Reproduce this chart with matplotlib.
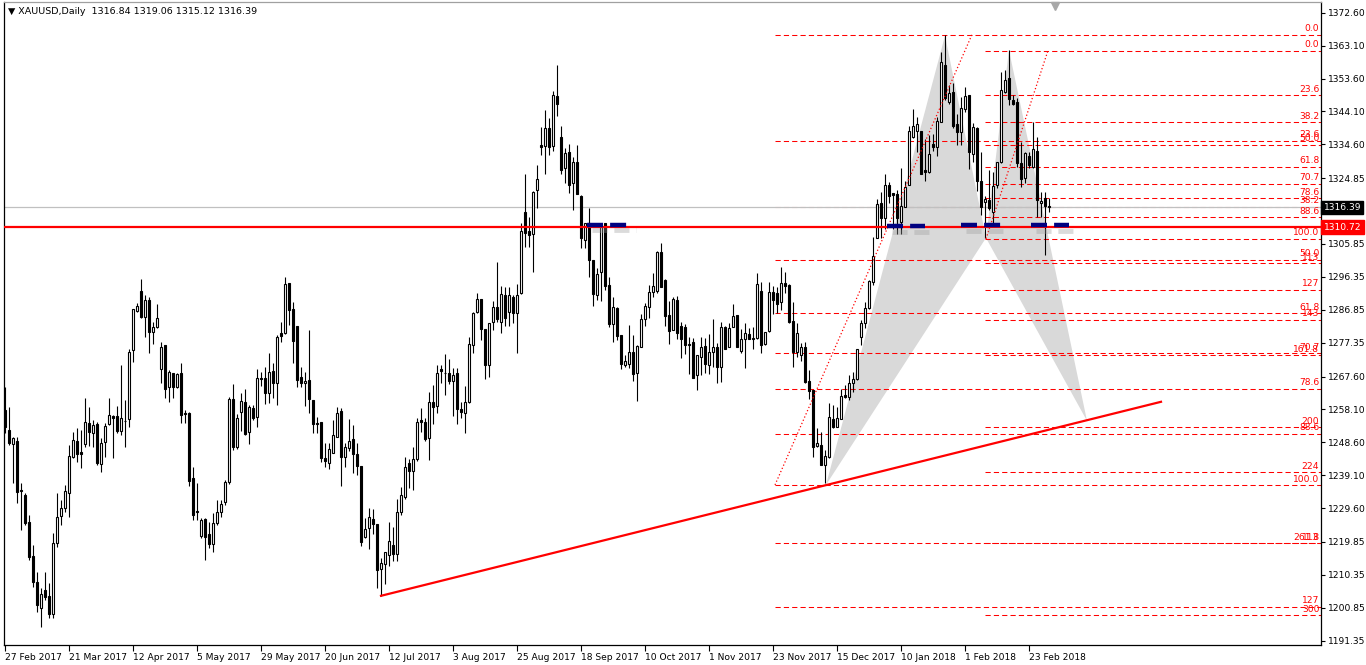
import matplotlib
matplotlib.use("Agg")
import matplotlib.pyplot as plt
import matplotlib.transforms as mtransforms

# XAUUSD daily bars, 27 Feb 2017 .. 2 Mar 2018 (bar index 0..261)
opens = [
    1257.9, 1252.2, 1248.1, 1249.0, 1234.9, 1233.4, 1225.6, 1215.8, 1208.3, 1200.8,
    1206.0, 1204.3, 1199.1, 1219.6, 1227.4, 1229.7, 1234.0, 1244.4, 1249.0, 1245.8,
    1248.1, 1254.2, 1251.3, 1253.9, 1242.3, 1248.7, 1253.9, 1256.2, 1256.2, 1251.9,
    1254.7, 1255.4, 1275.2, 1286.5, 1292.3, 1284.8, 1289.7, 1280.5, 1281.9, 1269.8,
    1276.7, 1264.6, 1268.6, 1264.6, 1268.6, 1257.1, 1257.1, 1238.3, 1228.8, 1221.6,
    1226.5, 1222.2, 1219.3, 1225.3, 1228.5, 1231.4, 1237.2, 1261.1, 1247.3, 1257.4,
    1260.3, 1251.6, 1258.5, 1255.9, 1267.2, 1267.2, 1262.8, 1269.2, 1265.7, 1280.2,
    1280.2, 1294.6, 1287.1, 1282.2, 1267.5, 1265.7, 1266.6, 1260.8, 1254.2, 1254.5,
    1244.1, 1242.6, 1245.5, 1250.1, 1257.6, 1244.4, 1247.0, 1249.6, 1245.2, 1241.8,
    1221.3, 1223.9, 1226.5, 1225.0, 1212.0, 1213.5, 1216.1, 1219.0, 1216.4, 1228.5,
    1232.8, 1242.6, 1240.3, 1243.8, 1255.0, 1254.5, 1249.9, 1260.3, 1259.1, 1269.8,
    1268.6, 1268.6, 1266.3, 1268.6, 1258.2, 1257.1, 1260.3, 1276.7, 1286.2, 1290.0,
    1281.3, 1270.9, 1283.3, 1287.7, 1283.3, 1291.1, 1286.2, 1290.6, 1285.9, 1291.7,
    1315.1, 1309.6, 1308.7, 1321.4, 1334.4, 1334.1, 1339.3, 1334.1, 1348.6, 1336.7,
    1327.8, 1332.4, 1323.5, 1329.5, 1319.7, 1307.0, 1311.9, 1301.2, 1291.1, 1297.8,
    1311.9, 1294.0, 1282.8, 1287.4, 1279.6, 1270.9, 1271.2, 1274.7, 1268.6, 1276.1,
    1284.2, 1287.7, 1292.0, 1292.3, 1303.5, 1295.5, 1285.4, 1281.0, 1289.7, 1282.2,
    1281.9, 1276.7, 1277.6, 1268.0, 1273.2, 1276.4, 1270.9, 1274.7, 1276.1, 1270.3,
    1281.9, 1276.1, 1281.9, 1285.4, 1275.0, 1278.4, 1279.9, 1278.7, 1278.7, 1292.3,
    1277.0, 1280.7, 1292.0, 1291.7, 1289.1, 1294.6, 1294.0, 1283.6, 1274.7, 1273.8,
    1276.1, 1266.3, 1263.7, 1247.6, 1247.8, 1242.0, 1244.4, 1255.3, 1253.0, 1255.3,
    1262.3, 1261.7, 1265.7, 1266.9, 1279.0, 1283.0, 1287.4, 1294.9, 1307.6, 1317.7,
    1313.4, 1322.9, 1320.6, 1320.3, 1312.2, 1316.5, 1322.9, 1336.7, 1338.5, 1338.5,
    1327.2, 1326.6, 1334.7, 1333.8, 1341.1, 1357.5, 1346.8, 1349.7, 1340.5, 1338.2,
    1344.8, 1348.9, 1331.8, 1339.3, 1324.0, 1318.0, 1318.5, 1315.1, 1322.9, 1329.5,
    1349.7, 1353.8, 1347.4, 1346.8, 1329.2, 1324.9, 1331.2, 1328.1, 1332.7, 1317.7,
    1319.1, 1316.84,
]
highs = [
    1264.6, 1258.8, 1250.2, 1250.2, 1236.9, 1234.0, 1227.6, 1219.0, 1211.2, 1206.6,
    1211.2, 1208.0, 1222.4, 1234.0, 1232.0, 1236.3, 1247.8, 1251.6, 1252.7, 1252.2,
    1261.4, 1258.8, 1255.0, 1254.5, 1249.9, 1254.2, 1261.4, 1256.5, 1259.1, 1270.9,
    1260.8, 1275.5, 1287.1, 1288.8, 1295.7, 1291.1, 1290.6, 1283.3, 1288.5, 1277.6,
    1276.7, 1269.5, 1268.6, 1268.6, 1271.5, 1258.0, 1257.4, 1241.5, 1236.9, 1226.8,
    1226.8, 1225.6, 1228.2, 1232.0, 1232.0, 1237.7, 1261.7, 1265.4, 1256.8, 1262.8,
    1264.0, 1259.4, 1259.4, 1269.8, 1268.9, 1270.4, 1274.4, 1271.5, 1279.6, 1283.3,
    1296.3, 1294.6, 1289.1, 1282.2, 1270.4, 1268.9, 1281.0, 1260.8, 1255.9, 1254.5,
    1248.4, 1248.4, 1255.0, 1258.8, 1258.5, 1248.4, 1255.4, 1253.6, 1248.4, 1241.8,
    1226.8, 1229.7, 1229.4, 1225.0, 1215.2, 1216.9, 1225.6, 1224.2, 1232.3, 1235.7,
    1244.4, 1243.8, 1247.3, 1255.6, 1258.5, 1255.6, 1263.1, 1265.1, 1270.9, 1270.9,
    1274.1, 1272.7, 1270.1, 1270.1, 1260.3, 1264.9, 1279.0, 1286.2, 1291.7, 1290.0,
    1281.3, 1283.0, 1289.4, 1300.7, 1293.7, 1293.4, 1293.4, 1291.1, 1294.3, 1311.9,
    1326.0, 1313.6, 1321.2, 1328.6, 1339.6, 1344.5, 1342.2, 1350.0, 1357.5, 1339.9,
    1333.6, 1334.7, 1331.0, 1334.4, 1320.0, 1311.9, 1316.2, 1301.2, 1298.9, 1310.8,
    1311.9, 1296.3, 1290.6, 1287.7, 1279.6, 1273.8, 1282.5, 1279.6, 1276.7, 1285.6,
    1288.8, 1294.0, 1297.5, 1303.8, 1306.1, 1295.7, 1289.4, 1290.6, 1290.8, 1283.3,
    1282.8, 1279.0, 1278.7, 1273.8, 1279.0, 1278.7, 1279.9, 1284.2, 1277.3, 1283.3,
    1282.2, 1283.0, 1288.5, 1285.4, 1281.3, 1283.0, 1281.6, 1281.9, 1297.5, 1294.9,
    1280.5, 1294.9, 1293.7, 1293.4, 1299.2, 1297.8, 1294.3, 1289.1, 1283.0, 1277.3,
    1277.6, 1269.5, 1263.7, 1252.7, 1251.6, 1246.4, 1260.0, 1259.4, 1258.8, 1264.0,
    1265.1, 1268.0, 1268.9, 1275.5, 1283.9, 1289.1, 1295.5, 1307.9, 1318.8, 1320.9,
    1326.0, 1323.7, 1320.6, 1321.4, 1327.8, 1324.0, 1339.9, 1344.8, 1342.5, 1338.5,
    1336.2, 1337.3, 1337.6, 1342.5, 1361.3, 1366.2, 1351.7, 1352.3, 1343.4, 1348.3,
    1351.2, 1348.9, 1340.8, 1339.6, 1332.4, 1319.7, 1327.2, 1326.6, 1329.5, 1355.5,
    1356.1, 1361.8, 1348.9, 1348.0, 1335.3, 1332.4, 1332.4, 1341.1, 1336.7, 1320.9,
    1320.9, 1319.06,
]
lows = [
    1251.3, 1247.8, 1236.9, 1231.1, 1223.3, 1224.6, 1214.6, 1206.9, 1199.6, 1195.3,
    1203.1, 1197.9, 1197.9, 1218.4, 1224.7, 1228.5, 1227.1, 1244.1, 1243.0, 1241.2,
    1247.3, 1247.5, 1247.3, 1242.0, 1240.0, 1244.4, 1253.6, 1244.1, 1251.3, 1250.7,
    1247.3, 1253.0, 1271.8, 1286.2, 1284.5, 1279.0, 1274.4, 1277.0, 1281.6, 1265.7,
    1261.4, 1260.2, 1261.4, 1264.3, 1254.2, 1254.2, 1236.0, 1226.2, 1226.2, 1221.0,
    1214.6, 1218.1, 1217.0, 1224.7, 1227.1, 1230.5, 1236.6, 1246.4, 1246.7, 1251.9,
    1250.7, 1248.1, 1255.0, 1253.0, 1264.9, 1259.7, 1260.0, 1261.4, 1259.4, 1277.6,
    1279.9, 1282.5, 1271.5, 1264.6, 1264.6, 1259.1, 1257.1, 1251.3, 1251.3, 1242.9,
    1241.5, 1240.9, 1245.5, 1250.1, 1236.0, 1241.5, 1246.1, 1239.8, 1239.2, 1218.7,
    1221.0, 1217.8, 1222.1, 1206.6, 1204.3, 1207.7, 1212.9, 1214.4, 1214.4, 1227.6,
    1232.3, 1235.4, 1234.9, 1243.2, 1251.6, 1249.0, 1243.5, 1253.9, 1257.1, 1265.7,
    1262.3, 1265.4, 1256.2, 1253.9, 1255.6, 1251.3, 1260.0, 1274.4, 1285.9, 1278.1,
    1266.9, 1267.5, 1281.0, 1283.3, 1280.2, 1282.2, 1282.2, 1283.0, 1274.4, 1291.4,
    1305.0, 1305.0, 1297.8, 1316.2, 1331.5, 1326.0, 1331.5, 1332.7, 1342.8, 1326.0,
    1323.5, 1320.6, 1315.7, 1320.3, 1304.7, 1304.7, 1296.3, 1288.0, 1289.7, 1289.4,
    1292.6, 1281.9, 1277.6, 1278.1, 1269.8, 1270.3, 1270.1, 1266.3, 1260.5, 1276.1,
    1282.2, 1284.5, 1290.6, 1291.7, 1293.4, 1282.2, 1277.0, 1281.0, 1278.4, 1273.0,
    1274.1, 1268.3, 1267.2, 1263.7, 1268.0, 1268.6, 1268.3, 1270.3, 1265.7, 1266.0,
    1275.5, 1276.1, 1281.9, 1276.1, 1274.4, 1270.1, 1278.4, 1275.5, 1278.4, 1274.4,
    1276.7, 1280.5, 1285.6, 1286.0, 1286.8, 1291.7, 1283.0, 1270.3, 1273.2, 1272.1,
    1265.7, 1261.1, 1244.4, 1247.3, 1242.0, 1236.9, 1244.1, 1252.7, 1253.0, 1255.3,
    1261.4, 1260.8, 1263.1, 1266.6, 1276.7, 1281.6, 1287.1, 1294.0, 1307.6, 1307.6,
    1310.2, 1317.7, 1310.2, 1308.7, 1308.7, 1316.5, 1322.9, 1336.4, 1332.4, 1326.0,
    1324.0, 1326.3, 1332.7, 1331.2, 1341.1, 1347.4, 1346.3, 1339.3, 1334.4, 1334.4,
    1344.0, 1327.5, 1329.5, 1321.1, 1314.2, 1307.6, 1315.7, 1310.8, 1322.0, 1329.2,
    1349.4, 1346.0, 1346.0, 1328.1, 1322.3, 1323.5, 1327.8, 1327.8, 1313.6, 1313.6,
    1302.7, 1315.12,
]
closes = [
    1253.0, 1248.4, 1249.9, 1234.3, 1234.6, 1225.3, 1215.5, 1208.3, 1201.7, 1204.8,
    1204.0, 1199.1, 1219.6, 1227.1, 1229.7, 1234.6, 1244.6, 1249.3, 1245.2, 1245.2,
    1254.5, 1251.6, 1253.6, 1242.6, 1248.4, 1253.3, 1256.5, 1255.6, 1251.9, 1255.6,
    1254.9, 1274.7, 1287.1, 1288.0, 1284.8, 1289.7, 1280.5, 1281.9, 1284.5, 1276.1,
    1264.0, 1268.9, 1264.6, 1268.3, 1256.5, 1256.8, 1237.4, 1227.6, 1228.5, 1226.2,
    1221.3, 1219.3, 1225.3, 1228.5, 1230.8, 1237.2, 1261.1, 1247.3, 1255.6, 1260.5,
    1251.0, 1258.8, 1255.6, 1267.2, 1266.9, 1262.8, 1268.9, 1265.7, 1279.0, 1279.3,
    1294.3, 1286.8, 1277.9, 1266.6, 1265.7, 1266.3, 1261.1, 1253.9, 1253.9, 1244.1,
    1243.2, 1246.7, 1250.7, 1257.1, 1244.4, 1247.3, 1249.0, 1245.2, 1241.8, 1219.8,
    1223.6, 1227.1, 1225.0, 1211.8, 1213.8, 1216.9, 1220.1, 1216.4, 1228.5, 1233.4,
    1241.5, 1240.3, 1243.8, 1254.5, 1254.5, 1249.6, 1260.3, 1258.8, 1268.6, 1269.2,
    1268.6, 1266.3, 1268.0, 1258.2, 1257.4, 1260.3, 1277.0, 1285.9, 1290.0, 1281.3,
    1270.9, 1283.0, 1287.7, 1284.2, 1291.4, 1284.5, 1291.1, 1285.9, 1291.1, 1309.6,
    1309.0, 1308.5, 1320.9, 1324.6, 1333.8, 1339.3, 1333.8, 1348.9, 1346.2, 1327.2,
    1332.1, 1322.9, 1329.5, 1320.3, 1307.6, 1311.9, 1301.2, 1291.4, 1297.2, 1310.8,
    1293.7, 1282.8, 1287.7, 1279.3, 1271.2, 1272.1, 1274.7, 1268.3, 1276.4, 1284.2,
    1288.0, 1292.0, 1293.7, 1303.5, 1293.4, 1285.1, 1280.7, 1290.0, 1280.2, 1278.4,
    1276.7, 1277.0, 1267.2, 1273.8, 1276.1, 1271.2, 1274.7, 1276.1, 1270.3, 1281.9,
    1275.5, 1281.6, 1285.1, 1276.1, 1278.4, 1280.2, 1278.4, 1278.4, 1294.3, 1276.7,
    1280.5, 1292.0, 1289.7, 1288.5, 1294.6, 1293.7, 1283.3, 1274.7, 1280.2, 1276.1,
    1266.0, 1263.4, 1247.3, 1248.4, 1242.0, 1244.7, 1255.9, 1253.0, 1255.6, 1262.0,
    1261.7, 1265.7, 1266.9, 1275.5, 1283.0, 1287.4, 1295.2, 1302.4, 1317.4, 1313.4,
    1322.9, 1319.7, 1320.0, 1313.4, 1316.8, 1322.3, 1338.5, 1339.9, 1340.5, 1326.0,
    1326.6, 1331.8, 1333.8, 1341.4, 1358.4, 1348.0, 1349.4, 1339.9, 1338.2, 1345.1,
    1348.6, 1332.4, 1339.6, 1324.0, 1316.5, 1318.8, 1316.2, 1322.6, 1329.5, 1350.3,
    1353.2, 1347.7, 1346.3, 1329.2, 1324.6, 1332.1, 1328.6, 1333.3, 1318.5, 1318.3,
    1316.8, 1316.39,
]

date_ticks = [0, 16, 32, 48, 64, 80, 96, 112, 128, 144, 160, 176, 192, 208, 224, 240, 256]
date_labels = ["27 Feb 2017", "21 Mar 2017", "12 Apr 2017", "5 May 2017", "29 May 2017",
               "20 Jun 2017", "12 Jul 2017", "3 Aug 2017", "25 Aug 2017", "18 Sep 2017",
               "10 Oct 2017", "1 Nov 2017", "23 Nov 2017", "15 Dec 2017", "10 Jan 2018",
               "1 Feb 2018", "23 Feb 2018"]
price_ticks = [1372.60, 1363.10, 1353.60, 1344.10, 1334.60, 1324.85, 1305.85, 1296.35,
               1286.85, 1277.35, 1267.60, 1258.10, 1248.60, 1239.10, 1229.60, 1219.85,
               1210.35, 1200.85, 1191.35]
price_labels = ["1372.60", "1363.10", "1353.60", "1344.10", "1334.60", "1324.85", "1305.85",
                "1296.35", "1286.85", "1277.35", "1267.60", "1258.10", "1248.60", "1239.10",
                "1229.60", "1219.85", "1210.35", "1200.85", "1191.35"]

bid = 1316.39
level_line = 1310.72

# fibonacci objects
fib_a_levels = [0.0, 23.6, 38.2, 50.0, 61.8, 70.7, 78.6, 88.6, 100.0, 113, 127]
fib_a_labels = ["0.0", "23.6", "38.2", "50.0", "61.8", "70.7", "78.6", "88.6", "100.0", "113", "127"]
fib_a_p0, fib_a_p100 = 1366.3, 1236.3
fib_b_levels = [0.0, 23.6, 38.2, 50.0, 61.8, 70.7, 78.6, 88.6, 100.0, 113, 127, 143,
                161.8, 200, 224, 261.8, 300]
fib_b_labels = ["0.0", "23.6", "38.2", "50.0", "61.8", "70.7", "78.6", "88.6", "100.0", "113",
                "127", "143", "161.8", "200", "224", "261.8", "300"]
fib_b_p0, fib_b_p100 = 1361.7, 1307.35

# harmonic pattern points X A B C D (bar, price)
pat_x = [205.25, 235, 245.25, 251, 270.5]
pat_p = [1236.3, 1366.0, 1307.6, 1361.8, 1254.8]

# trend line (bar, price)
trend_x = [94, 289]
trend_p = [1204.3, 1260.3]

fig = plt.figure(figsize=(13.66, 6.65), dpi=100)
ax = fig.add_axes([4 / 1366, 1 - 645 / 665, 1317 / 1366, 643 / 665])
ax.set_xlim(-0.25, 329)
ax.set_ylim(1190.1, 1375.7)

# pattern fill
ax.fill(pat_x[:3], pat_p[:3], color="#d9d9d9", lw=0, zorder=1)
ax.fill(pat_x[2:], pat_p[2:], color="#d9d9d9", lw=0, zorder=1)

# fibonacci levels, labels sit at the right edge like the terminal draws them
for start, p0, p100, levels, labels in [(192.5, fib_a_p0, fib_a_p100, fib_a_levels, fib_a_labels),
                                        (245.0, fib_b_p0, fib_b_p100, fib_b_levels, fib_b_labels)]:
    for lv, lb in zip(levels, labels):
        pr = p0 - lv / 100 * (p0 - p100)
        ax.plot([start, 329], [pr, pr], color="#ff0000", lw=0.75, ls=(0, (5, 3)), zorder=1.5)
        ax.text(328.6, pr + 0.4, lb, color="#ff0000", fontsize=6.6, ha="right", va="bottom", zorder=6)
ax.plot([192.5, 241.75], [fib_a_p100, fib_a_p0], color="#ff0000", lw=0.9, ls=(0, (1, 1.8)), zorder=5)
ax.plot([245.25, 260.75], [fib_b_p100, fib_b_p0], color="#ff0000", lw=0.9, ls=(0, (1, 1.8)), zorder=5)

# candles
xs = list(range(len(closes)))
faces = ["white" if c >= o else "black" for o, c in zip(opens, closes)]
ax.vlines(xs, lows, highs, color="black", lw=0.8, zorder=3)
ax.bar(xs, [c - o for o, c in zip(opens, closes)], bottom=opens, width=0.5,
       color=faces, edgecolor="black", linewidth=0.8, zorder=4)

# horizontal lines
ax.axhline(bid, color="#c0c0c0", lw=0.9, zorder=2)
ax.axhline(level_line, color="#ff0000", lw=1.6, zorder=5)

# trend line
ax.plot(trend_x, trend_p, color="#ff0000", lw=1.6, zorder=5)

# navy dashed zones with shadow
for x0, x1, pr in [(145.5, 156.5, 1311.4), (220.5, 230, 1310.9), (239, 249.5, 1311.2), (256.5, 266, 1311.2)]:
    ax.plot([x0 + 1.2, x1 + 1.2], [pr - 1.6, pr - 1.6], color="#9a9a9a", lw=3.5, alpha=0.35,
            ls=(0, (3.1, 1.4)), solid_capstyle="butt", zorder=5.5)
    ax.plot([x0, x1], [pr, pr], color="#000080", lw=3.2, ls=(0, (3.6, 1.6)), zorder=6)

# axes styling
for s in ax.spines.values():
    s.set_color("black")
    s.set_linewidth(0.9)
ax.spines["top"].set_color("#a0a0a0")
ax.yaxis.tick_right()
ax.set_yticks(price_ticks)
ax.set_yticklabels(price_labels)
ax.tick_params(axis="y", length=3, width=0.8, pad=2, labelsize=6.6)
ax.set_xticks(date_ticks)
ax.set_xticklabels(date_labels)
ax.tick_params(axis="x", length=4, width=0.8, pad=2, labelsize=6.6)
for lbl in ax.get_xticklabels():
    lbl.set_horizontalalignment("left")

# price boxes on the axis
tr = mtransforms.blended_transform_factory(ax.transAxes, ax.transData)
ax.text(1.002, bid, "1316.39", transform=tr, color="white", fontsize=6.6, va="center", ha="left",
        bbox=dict(facecolor="black", edgecolor="black", boxstyle="square,pad=0.25"), zorder=10, clip_on=False)
ax.text(1.002, level_line, "1310.72", transform=tr, color="white", fontsize=6.6, va="center", ha="left",
        bbox=dict(facecolor="#ff0000", edgecolor="#ff0000", boxstyle="square,pad=0.25"), zorder=10, clip_on=False)

# header and shift marker
ax.text(0.003, 0.992, "\u25bc XAUUSD,Daily  1316.84 1319.06 1315.12 1316.39", transform=ax.transAxes,
        fontsize=6.8, va="top", ha="left")
ax.plot([262.5], [1374.6], marker="v", color="#a8a8a8", markersize=6, clip_on=False, zorder=10)

fig.savefig("out.png", dpi=100)
